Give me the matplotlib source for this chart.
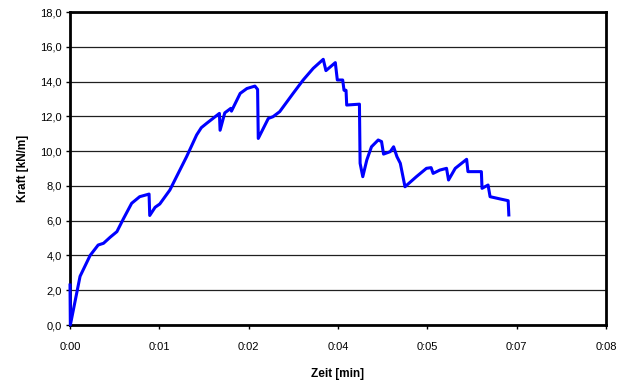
import matplotlib
matplotlib.use("Agg")
import matplotlib.pyplot as plt
import numpy as np

plt.rcParams['font.family'] = ['Liberation Sans', 'DejaVu Sans']

# time (in x-axis units) and force [kN/m]
zeit = [0.00, 0.005, 0.15, 0.30, 0.42, 0.50, 0.60, 0.70, 0.80, 0.92, 1.04, 1.18, 1.19,
        1.27, 1.34, 1.49, 1.59, 1.74, 1.89, 1.96, 2.04, 2.23, 2.24, 2.31, 2.40, 2.41, 2.54,
        2.64, 2.76, 2.80, 2.81, 2.96, 3.03, 3.13, 3.33, 3.48, 3.63, 3.78, 3.82, 3.96,
        3.99, 4.07, 4.09, 4.12, 4.13, 4.32, 4.33, 4.37, 4.43, 4.50, 4.60, 4.65, 4.68,
        4.78, 4.83, 4.88, 4.93, 4.97, 5.00, 5.17, 5.32, 5.39, 5.42, 5.52, 5.62, 5.65,
        5.75, 5.92, 5.94, 6.14, 6.15, 6.24, 6.27, 6.42, 6.54, 6.55]
kraft = [2.3, 0.0, 2.8, 4.0, 4.6, 4.7, 5.05, 5.37, 6.13, 7.0, 7.38, 7.53, 6.3,
         6.77, 6.96, 7.76, 8.53, 9.68, 10.93, 11.35, 11.6, 12.17, 11.2, 12.2, 12.46, 12.3, 13.32,
         13.6, 13.74, 13.55, 10.73, 11.88, 11.98, 12.27, 13.32, 14.09, 14.76, 15.28, 14.63, 15.09,
         14.09, 14.09, 13.5, 13.5, 12.65, 12.7, 9.3, 8.53, 9.49, 10.25, 10.64, 10.55, 9.83,
         9.97, 10.25, 9.68, 9.3, 8.53, 7.95, 8.53, 9.01, 9.05, 8.72, 8.91, 9.01, 8.34,
         9.01, 9.53, 8.82, 8.82, 7.86, 8.05, 7.38, 7.25, 7.15, 6.33]

x_ticks = [0, 4/3, 8/3, 4, 16/3, 20/3, 8]
x_labels = ["0:00", "0:01", "0:02", "0:04", "0:05", "0:07", "0:08"]
y_ticks = [0, 2, 4, 6, 8, 10, 12, 14, 16, 18]
y_labels = ["0,0", "2,0", "4,0", "6,0", "8,0", "10,0", "12,0", "14,0", "16,0", "18,0"]

fig = plt.figure(figsize=(6.29, 3.85), dpi=100)
ax = fig.add_axes([0.1113, 0.1558, 0.8521, 0.813])

ax.plot(zeit, kraft, color='#0000ff', lw=2.2, solid_joinstyle='round', zorder=3,
        clip_on=False)

ax.set_xlim(0, 8)
ax.set_ylim(0, 18)
ax.set_xticks(x_ticks)
ax.set_xticklabels(x_labels)
ax.set_yticks(y_ticks)
ax.set_yticklabels(y_labels)
ax.yaxis.grid(True, color='#202020', lw=0.9)
ax.set_axisbelow(True)
ax.tick_params(direction='out', length=3, width=1, labelsize=8, colors='black', pad=3)
ax.tick_params(axis='x', pad=9)
for s in ax.spines.values():
    s.set_color('black')
    s.set_linewidth(2)
    s.set_zorder(2)

ax.set_xlabel("Zeit [min]", fontsize=8.5, fontweight='bold', labelpad=12)
ax.set_ylabel("Kraft [kN/m]", fontsize=8.5, fontweight='bold', labelpad=8)

fig.savefig("out.png", dpi=100)
